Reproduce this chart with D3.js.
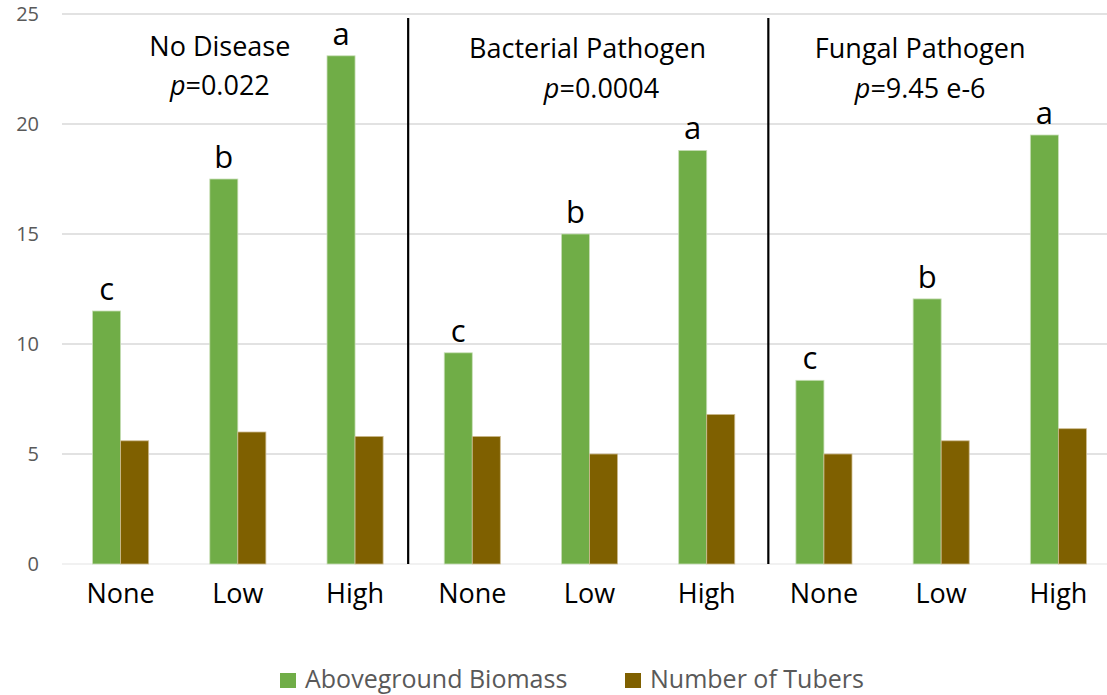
<!doctype html>
<html lang="en">
  <head>
    <meta charset="utf-8">
    <title>Biomass and tubers by pathogen</title>
    <style>
      body { margin: 0; background: #ffffff; }
      text { font-family: "Open Sans", "Noto Sans", sans-serif; }
    </style>
  </head>
  <body>
    <script src="https://d3js.org/d3.v7.min.js"></script>
    <script>
      // data
      var groups = ["No Disease", "Bacterial Pathogen", "Fungal Pathogen"];
      var pValues = ["0.022", "0.0004", "9.45 e-6"];
      var levels = ["None", "Low", "High"];
      var seriesNames = ["Aboveground Biomass", "Number of Tubers"];
      var biomass = [11.5, 17.5, 23.1, 9.6, 15.0, 18.8, 8.35, 12.05, 19.5];
      var tubers = [5.6, 6.0, 5.8, 5.8, 5.0, 6.8, 5.0, 5.6, 6.15];
      var letters = ["c", "b", "a", "c", "b", "a", "c", "b", "a"];
      var yTicks = [0, 5, 10, 15, 20, 25];

      var colors = ["#70ad47", "#7f6000"];
      var edges = ["#c9deb8", "#cdbb8f"];

      //Width and height
      var w = 1107;
      var h = 695;

      // one row per bar pair
      var rows = [];
      groups.forEach(function(g, gi) {
        levels.forEach(function(l, li) {
          var i = gi * levels.length + li;
          rows.push({ key: g + "|" + l, group: g, level: l, vals: [biomass[i], tubers[i]], letter: letters[i] });
        });
      });

      var svg = d3.select("body")
        .append("svg")
        .attr("width", w)
        .attr("height", h);

      var x0 = d3.scaleBand()
        .domain(rows.map(function(d) { return d.key; }))
        .range([62, 1117]);

      var x1 = d3.scaleBand()
        .domain(seriesNames)
        .range([0, x0.bandwidth()])
        .paddingOuter(1.09);

      var y = d3.scaleLinear()
        .domain([0, 25])
        .range([564, 14]);

      // gridlines
      svg.append("g")
        .selectAll("line")
        .data(yTicks)
        .enter()
        .append("line")
        .attr("x1", 62)
        .attr("x2", w)
        .attr("y1", function(d) { return y(d); })
        .attr("y2", function(d) { return y(d); })
        .style("stroke", function(d) { return d === 0 ? "#e3e3e3" : "#d9d9d9"; })
        .style("stroke-width", function(d) { return d === 0 ? 1 : 1.5; });

      // y tick labels
      svg.append("g")
        .selectAll("text")
        .data(yTicks)
        .enter()
        .append("text")
        .attr("x", 39)
        .attr("y", function(d) { return y(d); })
        .attr("dy", "0.35em")
        .attr("text-anchor", "end")
        .style("font-size", "20px")
        .style("fill", "#595959")
        .text(function(d) { return d; });

      // bars
      var pairs = svg.append("g")
        .selectAll("g")
        .data(rows)
        .enter()
        .append("g")
        .attr("transform", function(d) { return "translate(" + x0(d.key) + ",0)"; });

      pairs.selectAll("rect")
        .data(function(d) { return d.vals.map(function(v, i) { return { name: seriesNames[i], v: v, i: i }; }); })
        .enter()
        .append("rect")
        .attr("x", function(d) { return x1(d.name); })
        .attr("width", x1.bandwidth())
        .attr("y", function(d) { return y(d.v); })
        .attr("height", function(d) { return y(0) - y(d.v); })
        .style("fill", function(d) { return colors[d.i]; })
        .style("stroke", function(d) { return edges[d.i]; })
        .style("stroke-width", 0.8);

      // significance letters over the biomass bars
      pairs.append("text")
        .attr("x", x1(seriesNames[0]) + x1.bandwidth() / 2)
        .attr("y", function(d) { return y(d.vals[0]) - 11; })
        .attr("text-anchor", "middle")
        .style("font-size", "31px")
        .style("fill", "#000")
        .text(function(d) { return d.letter; });

      // category labels
      svg.append("g")
        .selectAll("text")
        .data(rows)
        .enter()
        .append("text")
        .attr("x", function(d) { return x0(d.key) + x0.bandwidth() / 2; })
        .attr("y", 603)
        .attr("text-anchor", "middle")
        .style("font-size", "27px")
        .style("fill", "#000")
        .text(function(d) { return d.level; });

      // dividers between disease groups
      var dividerShift = [-5.5, 3];
      [1, 2].forEach(function(gi, k) {
        var xb = x0(groups[gi] + "|" + levels[0]) + dividerShift[k];
        svg.append("line")
          .attr("x1", xb).attr("x2", xb)
          .attr("y1", 18).attr("y2", 564)
          .style("stroke", "#000")
          .style("stroke-width", 2.2);
      });

      // group titles with p values
      var titleShift = [-18, -2, -21];
      var pShift = [-18, 12, -21];
      groups.forEach(function(g, gi) {
        var mid = x0(g + "|" + levels[1]) + x0.bandwidth() / 2;
        svg.append("text")
          .attr("x", mid + titleShift[gi])
          .attr("y", gi === 0 ? 56 : 58)
          .attr("text-anchor", "middle")
          .style("font-size", "27px")
          .style("fill", "#000")
          .text(g);
        var t = svg.append("text")
          .attr("x", mid + pShift[gi])
          .attr("y", gi === 0 ? 95 : 98)
          .attr("text-anchor", "middle")
          .style("font-size", "27px")
          .style("fill", "#000");
        t.append("tspan").style("font-style", "italic").text("p");
        t.append("tspan").text("=" + pValues[gi]);
      });

      // legend
      var legendX = [280, 625];
      var legend = svg.append("g")
        .selectAll("g")
        .data(seriesNames)
        .enter()
        .append("g")
        .attr("transform", function(d, i) { return "translate(" + legendX[i] + ",673)"; });

      legend.append("rect")
        .attr("width", 16)
        .attr("height", 15)
        .style("fill", function(d, i) { return colors[i]; });

      legend.append("text")
        .attr("x", 25)
        .attr("y", 15)
        .style("font-size", "25px")
        .style("fill", "#595959")
        .text(function(d) { return d; });
    </script>
  </body>
</html>
